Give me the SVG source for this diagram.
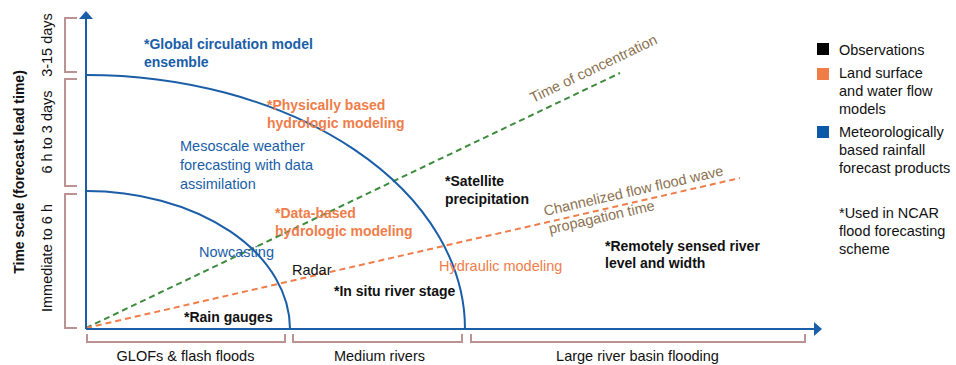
<svg xmlns="http://www.w3.org/2000/svg" width="956" height="365" viewBox="0 0 956 365">
<style>
text{font-family:"Liberation Sans",Arial,sans-serif;font-size:14.5px}
.b{font-weight:bold;font-size:14px}
.blue{fill:#1a5ea8}
.org{fill:#ef7d4a}
.blk{fill:#111}
.brn{fill:#8c7250}
.br{fill:none;stroke:#bc9393;stroke-width:2}
.ax{fill:none;stroke:#1a5ea8;stroke-width:2}
.dg{fill:none;stroke:#3d8b3d;stroke-width:2;stroke-dasharray:6 4}
.do{fill:none;stroke:#ef7d4a;stroke-width:2;stroke-dasharray:6 4}
</style>
<rect width="956" height="365" fill="#fff"/>
<g id="brackets">
<path class="br" d="M77,18H65V72H77"/>
<path class="br" d="M77,79H65V186H77"/>
<path class="br" d="M77,194H65V328H77"/>
<path class="br" d="M87,334V342H285V334"/>
<path class="br" d="M293,334V342H462V334"/>
<path class="br" d="M471,334V342H805V334"/>
</g>
<g id="axis-labels">
<text class="b blk" transform="translate(24,172) rotate(-90)" text-anchor="middle">Time scale (forecast lead time)</text>
<text class="blk" transform="translate(52,45) rotate(-90)" text-anchor="middle">3-15 days</text>
<text class="blk" transform="translate(52,132) rotate(-90)" text-anchor="middle">6 h to 3 days</text>
<text class="blk" transform="translate(52,258) rotate(-90)" text-anchor="middle">Immediate to 6 h</text>
<text class="blk" x="185.5" y="361" text-anchor="middle">GLOFs &amp; flash floods</text>
<text class="blk" x="379.5" y="361" text-anchor="middle">Medium rivers</text>
<text class="blk" x="637.5" y="361" text-anchor="middle">Large river basin flooding</text>
</g>
<g id="connectors">
<path class="dg" d="M86,328L620,73"/>
<path class="do" d="M86,328L740,178"/>
<path class="ax" d="M86,75A379,254 0 0 1 465,329"/>
<path class="ax" d="M86,191A204,138 0 0 1 290,329"/>
<path class="ax" d="M86,329V18"/>
<path class="ax" d="M86,329H815"/>
<path d="M86,11L79,19H93Z" fill="#1a5ea8"/>
<path d="M822,329L814,322V336Z" fill="#1a5ea8"/>
</g>
<g id="line-labels">
<text class="brn" transform="translate(533,103) rotate(-25.6)">Time of concentration</text>
<text class="brn" transform="translate(545,216) rotate(-12.8)">Channelized flow flood wave</text>
<text class="brn" transform="translate(550,234) rotate(-12.8)">propagation time</text>
</g>
<g id="gcm"><text class="b blue" x="144" y="49">*Global circulation model</text><text class="b blue" x="144" y="67">ensemble</text></g>
<g id="phys"><text class="b org" x="267" y="110">*Physically based</text><text class="b org" x="267" y="128">hydrologic modeling</text></g>
<g id="meso"><text class="blue" x="180" y="151">Mesoscale weather</text><text class="blue" x="180" y="170">forecasting with data</text><text class="blue" x="180" y="189">assimilation</text></g>
<g id="nowcasting"><text class="blue" x="199" y="257">Nowcasting</text></g>
<g id="databased"><text class="b org" x="275" y="218">*Data-based</text><text class="b org" x="275" y="236">hydrologic modeling</text></g>
<g id="radar"><text class="blk" x="292" y="275">Radar</text></g>
<g id="insitu"><text class="b blk" x="334" y="296">*In situ river stage</text></g>
<g id="raingauges"><text class="b blk" x="184" y="322">*Rain gauges</text></g>
<g id="satellite"><text class="b blk" x="445" y="186">*Satellite</text><text class="b blk" x="445" y="204">precipitation</text></g>
<g id="hydraulic"><text class="org" x="439" y="271">Hydraulic modeling</text></g>
<g id="remote"><text class="b blk" x="605" y="251">*Remotely sensed river</text><text class="b blk" x="605" y="268">level and width</text></g>
<g id="legend">
<rect x="817" y="43" width="12" height="12" fill="#000"/>
<text class="blk" x="839" y="55">Observations</text>
<rect x="817" y="68" width="12" height="12" fill="#ef7d45"/>
<text class="blk" x="839" y="78">Land surface</text>
<text class="blk" x="839" y="96">and water flow</text>
<text class="blk" x="839" y="114">models</text>
<rect x="817" y="126" width="12" height="12" fill="#0b5aa8"/>
<text class="blk" x="839" y="137">Meteorologically</text>
<text class="blk" x="839" y="155">based rainfall</text>
<text class="blk" x="839" y="173">forecast products</text>
<text class="blk" x="839" y="218">*Used in NCAR</text>
<text class="blk" x="839" y="236">flood forecasting</text>
<text class="blk" x="839" y="254">scheme</text>
</g>
</svg>
